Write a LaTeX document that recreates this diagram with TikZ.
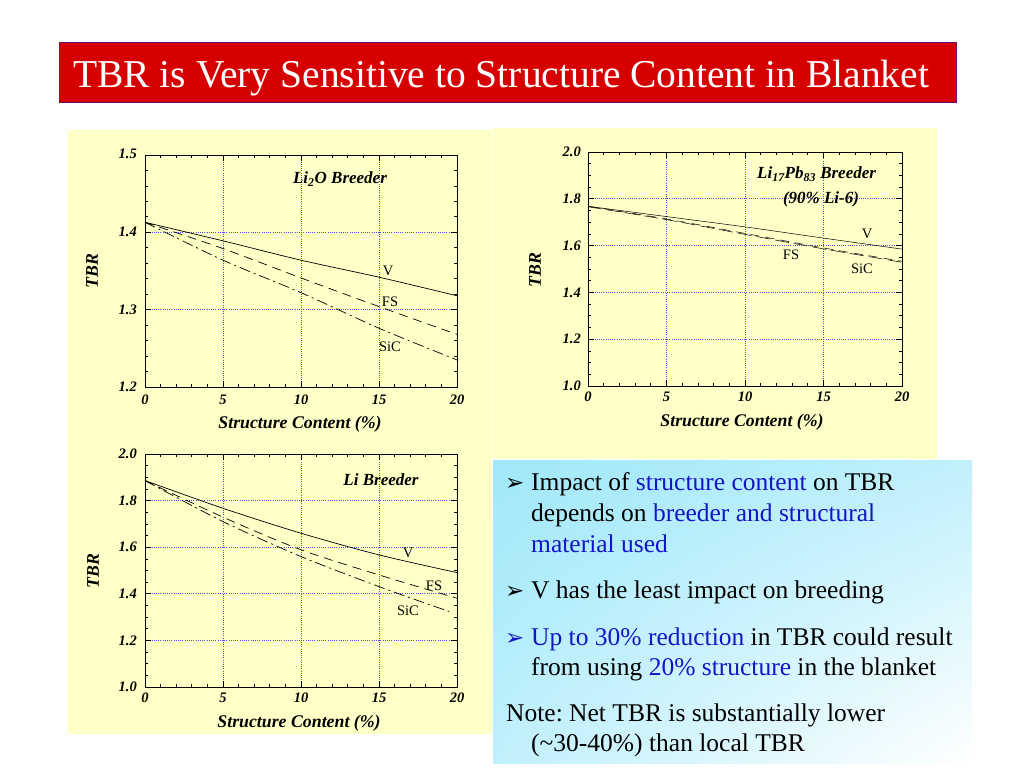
\documentclass[tikz,border=0pt]{standalone}
\usepackage{fontspec}
\usetikzlibrary{shadings}
\setmainfont{Liberation Serif}
\newfontfamily\symfont{DejaVu Sans}
\frenchspacing
\definecolor{titlered}{RGB}{214,0,0}
\definecolor{titleborder}{RGB}{100,20,110}
\definecolor{panelyellow}{RGB}{255,255,200}
\definecolor{gridblue}{RGB}{80,80,230}
\definecolor{textblue}{RGB}{20,20,200}
\definecolor{boxcyan}{RGB}{160,232,250}
\definecolor{boxmid}{RGB}{192,240,251}
\tikzset{
  gridline/.style={gridblue, line width=0.8pt, dash pattern=on 1pt off 1.2pt},
  frame/.style={black, line width=1pt},
  tick/.style={black, line width=0.7pt},
  vline/.style={black, line width=0.7pt},
  fsline/.style={black, line width=0.7pt, dash pattern=on 9pt off 6pt},
  sicline/.style={black, line width=0.7pt, dash pattern=on 11pt off 4pt on 2pt off 4pt},
  ticklab/.style={font=\fontsize{14.5}{14.5}\selectfont\bfseries\itshape, inner sep=0pt},
  axlab/.style={font=\fontsize{17.8}{17.8}\selectfont\bfseries\itshape, inner sep=0pt},
  ptitle/.style={font=\fontsize{17}{17}\selectfont\bfseries\itshape, inner sep=0pt},
  curvelab/.style={font=\fontsize{14.5}{14.5}\selectfont, inner sep=0pt},
  bodytext/.style={font=\fontsize{25.5}{25.5}\selectfont, inner sep=0pt, anchor=base west},
  bullet/.style={font=\symfont\fontsize{23}{23}\selectfont, inner sep=0pt, anchor=base west},
}
\begin{document}
\begin{tikzpicture}[x=1pt,y=-1pt]
\useasboundingbox (0,0) rectangle (1024,768);
\fill[white] (0,0) rectangle (1024,768);

% title
\node[draw=titleborder, fill=titlered, line width=1.2pt, minimum width=897pt, minimum height=60pt, anchor=north west, inner sep=0pt] (titlebox) at (59,42) {};
\node[font=\fontsize{39.5}{39.5}\selectfont, text=white, anchor=base west, inner sep=0pt] (titletext) at (73,87) {TBR is Very Sensitive to Structure Content in Blanket};

% panels
\fill[panelyellow] (68,130) rectangle (492,734);
\fill[panelyellow] (493,128) rectangle (937,459);
\shade[upper left=boxcyan, upper right=boxmid, lower left=boxmid, lower right=white] (493,460) rectangle (972,763);

% ---------------- Plot 1: Li2O ----------------
\begin{scope}[shift={(145pt,-387pt)}, x=15.6pt, y=773.33pt]
  \foreach \g in {5,10,15} \draw[gridline] (\g,0) -- (\g,0.3);
  \foreach \g in {0.1,0.2} \draw[gridline] (0,\g) -- (20,\g);
  \foreach \i in {1,...,19} {
    \draw[tick] (\i,0) -- ++(0,3pt);
    \draw[tick] (\i,0.3) -- ++(0,-3pt);
  }
  \foreach \i in {5,10,15} {
    \draw[tick] (\i,0) -- ++(0,6pt);
    \draw[tick] (\i,0.3) -- ++(0,-6pt);
  }
  \foreach \j in {1,...,14} {
    \draw[tick] (0,{\j*0.02}) -- ++(3pt,0);
    \draw[tick] (20,{\j*0.02}) -- ++(-3pt,0);
  }
  \foreach \j in {0.1,0.2} {
    \draw[tick] (0,\j) -- ++(6pt,0);
    \draw[tick] (20,\j) -- ++(-6pt,0);
  }
  \draw[frame] (0,0) rectangle (20,0.3);
  \draw[vline] plot[smooth] coordinates {(0,0.213) (5,0.189) (10,0.164) (15,0.142) (20,0.118)};
  \draw[fsline] plot[smooth] coordinates {(0,0.213) (5,0.179) (10,0.141) (15,0.104) (20,0.068)};
  \draw[sicline] plot[smooth] coordinates {(0,0.213) (5,0.164) (10,0.122) (15,0.076) (20,0.035)};
\end{scope}
\foreach \v/\y in {1.2/387,1.3/310,1.4/232,1.5/154}
  \node[ticklab, anchor=east] (p1y\v) at (137,\y) {\v};
\foreach \v in {0,5,10,15,20}
  \node[ticklab] (p1x\v) at ({145+\v*15.6},400) {\v};
\node[axlab] (p1xl) at (300,424) {Structure Content (\%)};
\node[axlab, rotate=90] (p1yl) at (92,271) {TBR};
\node[ptitle] (p1t) at (340,179) {Li\textsubscript{2}O Breeder};
\node[curvelab] (p1v) at (388,271) {V};
\node[curvelab] (p1fs) at (390,302) {FS};
\node[curvelab] (p1sic) at (390,347) {SiC};

% ---------------- Plot 2: Li17Pb83 ----------------
\begin{scope}[shift={(588pt,-386pt)}, x=15.7pt, y=234pt]
  \foreach \g in {5,10,15} \draw[gridline] (\g,0) -- (\g,1);
  \foreach \g in {0.2,0.4,0.6,0.8} \draw[gridline] (0,\g) -- (20,\g);
  \foreach \i in {1,...,19} {
    \draw[tick] (\i,0) -- ++(0,3pt);
    \draw[tick] (\i,1) -- ++(0,-3pt);
  }
  \foreach \i in {5,10,15} {
    \draw[tick] (\i,0) -- ++(0,6pt);
    \draw[tick] (\i,1) -- ++(0,-6pt);
  }
  \foreach \j in {1,...,19} {
    \draw[tick] (0,{\j*0.05}) -- ++(3pt,0);
    \draw[tick] (20,{\j*0.05}) -- ++(-3pt,0);
  }
  \foreach \j in {0.2,0.4,0.6,0.8} {
    \draw[tick] (0,\j) -- ++(6pt,0);
    \draw[tick] (20,\j) -- ++(-6pt,0);
  }
  \draw[frame] (0,0) rectangle (20,1);
  \draw[vline, line width=0.5pt] plot[smooth] coordinates {(0,0.768) (5,0.724) (10,0.680) (15,0.632) (20,0.585)};
  \draw[fsline, line width=0.5pt] plot[smooth] coordinates {(0,0.768) (5,0.714) (10,0.652) (15,0.590) (20,0.533)};
  \draw[black, line width=0.5pt, dash pattern=on 14pt off 5pt] plot[smooth] coordinates {(0,0.766) (5,0.711) (10,0.648) (15,0.586) (20,0.529)};
\end{scope}
\foreach \v/\y in {1.0/386,1.2/339.2,1.4/292.4,1.6/245.6,1.8/198.8,2.0/152}
  \node[ticklab, anchor=east] (p2y\v) at (581,\y) {\v};
\foreach \v in {0,5,10,15,20}
  \node[ticklab] (p2x\v) at ({588+\v*15.7},397) {\v};
\node[axlab] (p2xl) at (742,422) {Structure Content (\%)};
\node[axlab, rotate=90] (p2yl) at (535,270) {TBR};
\node[ptitle, anchor=west] (p2t) at (757,174) {Li\textsubscript{17}Pb\textsubscript{83} Breeder};
\node[ptitle] (p2t2) at (821,199) {(90\% Li-6)};
\node[curvelab] (p2v) at (867,234) {V};
\node[curvelab] (p2fs) at (791,255) {FS};
\node[curvelab] (p2sic) at (862,269) {SiC};

% ---------------- Plot 3: Li ----------------
\begin{scope}[shift={(145pt,-687pt)}, x=15.6pt, y=233pt]
  \foreach \g in {5,10,15} \draw[gridline] (\g,0) -- (\g,1);
  \foreach \g in {0.2,0.4,0.6,0.8} \draw[gridline] (0,\g) -- (20,\g);
  \foreach \i in {1,...,19} {
    \draw[tick] (\i,0) -- ++(0,3pt);
    \draw[tick] (\i,1) -- ++(0,-3pt);
  }
  \foreach \i in {5,10,15} {
    \draw[tick] (\i,0) -- ++(0,6pt);
    \draw[tick] (\i,1) -- ++(0,-6pt);
  }
  \foreach \j in {1,...,19} {
    \draw[tick] (0,{\j*0.05}) -- ++(3pt,0);
    \draw[tick] (20,{\j*0.05}) -- ++(-3pt,0);
  }
  \foreach \j in {0.2,0.4,0.6,0.8} {
    \draw[tick] (0,\j) -- ++(6pt,0);
    \draw[tick] (20,\j) -- ++(-6pt,0);
  }
  \draw[frame] (0,0) rectangle (20,1);
  \draw[vline] plot[smooth] coordinates {(0,0.886) (5,0.767) (10,0.660) (15,0.567) (20,0.491)};
  \draw[fsline] plot[smooth] coordinates {(0,0.886) (5,0.729) (10,0.589) (15,0.481) (20,0.381)};
  \draw[sicline] plot[smooth] coordinates {(0,0.886) (5,0.710) (10,0.560) (15,0.431) (19.5,0.324)};
\end{scope}
\foreach \v/\y in {1.0/687,1.2/640.4,1.4/593.8,1.6/547.2,1.8/500.6,2.0/454}
  \node[ticklab, anchor=east] (p3y\v) at (137,\y) {\v};
\foreach \v in {0,5,10,15,20}
  \node[ticklab] (p3x\v) at ({145+\v*15.6},698) {\v};
\node[axlab] (p3xl) at (299,723) {Structure Content (\%)};
\node[axlab, rotate=90] (p3yl) at (93,571) {TBR};
\node[ptitle] (p3t) at (381,480) {Li Breeder};
\node[curvelab] (p3v) at (408,553) {V};
\node[curvelab] (p3fs) at (434,586) {FS};
\node[curvelab] (p3sic) at (408,611) {SiC};

% ---------------- Text box ----------------
\node[bullet] (b1) at (505,490) {➢};
\node[bodytext] (t1) at (531,490) {Impact of \textcolor{textblue}{structure content} on TBR};
\node[bodytext] (t2) at (531,521) {depends on \textcolor{textblue}{breeder and structural}};
\node[bodytext] (t3) at (531,552) {\textcolor{textblue}{material used}};
\node[bullet] (b2) at (505,598) {➢};
\node[bodytext] (t4) at (531,598) {V has the least impact on breeding};
\node[bullet, text=textblue] (b3) at (505,645) {➢};
\node[bodytext] (t5) at (531,645) {\textcolor{textblue}{Up to 30\% reduction} in TBR could result};
\node[bodytext] (t6) at (531,675) {from using \textcolor{textblue}{20\% structure} in the blanket};
\node[bodytext] (t7) at (506,721) {Note: Net TBR is substantially lower};
\node[bodytext] (t8) at (531,751) {(\textasciitilde30-40\%) than local TBR};
\end{tikzpicture}
\end{document}
